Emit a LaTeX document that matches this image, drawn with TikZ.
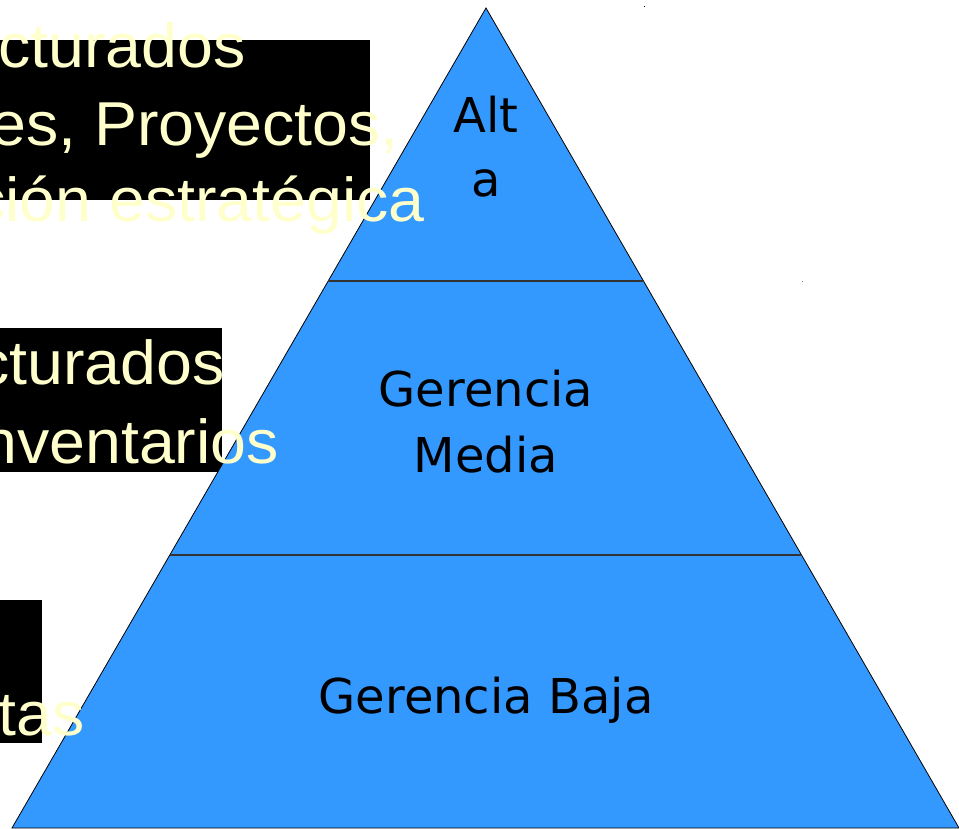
\documentclass[tikz,border=0pt]{standalone}
\usepackage{fontspec}
\setmainfont{Liberation Sans}
\newfontfamily\lefttext[FakeStretch=1.04]{Liberation Sans}
\newfontfamily\dejavu{DejaVu Sans}
\definecolor{pyrblue}{HTML}{3399FF}
\definecolor{paleyellow}{HTML}{FFFFCC}
\definecolor{divider}{HTML}{333333}
\tikzset{
  blackbox/.style={fill=black, draw=none},
  sidetext/.style={anchor=base east, inner sep=0pt, text=paleyellow, font=\lefttext\fontsize{62}{70}\selectfont},
  leveltext/.style={anchor=base, inner sep=0pt, text=black, font=\dejavu\fontsize{48}{60}\selectfont},
  dividerline/.style={draw=divider, line width=2pt},
}
\begin{document}
\begin{tikzpicture}[x=1pt, y=-1pt]
\useasboundingbox (0,0) rectangle (959,829);
\clip (0,0) rectangle (959,829);
\fill[white] (0,0) rectangle (959,829);
% left boxes
\path[blackbox] (0,40) rectangle (370,200);
\path[blackbox] (0,328) rectangle (222,472);
\path[blackbox] (0,600) rectangle (42,743);
% pyramid
\coordinate (apex) at (486,8);
\coordinate (bl) at (12,828);
\coordinate (br) at (959,828);
\filldraw[fill=pyrblue, draw=black, line width=0.8pt] (apex) -- (bl) -- (br) -- cycle;
\coordinate (l1) at (328,281);
\coordinate (r1) at (643.5,281);
\coordinate (l2) at (170,555);
\coordinate (r2) at (802,555);
\draw[dividerline] (l1) -- (r1);
\draw[dividerline] (l2) -- (r2);
% stray dots
\fill[black] (643.5,6.5) rectangle (644.5,7.5);
\fill[gray] (802,281.5) rectangle (803,282.5);
% level texts
\node[leveltext] (alt1) at (486,133) {Alt};
\node[leveltext] (alt2) at (486,197) {a};
\node[leveltext] (med1) at (486,406) {Gerencia};
\node[leveltext] (med2) at (486,472) {Media};
\node[leveltext] (baja) at (486,713) {Gerencia Baja};
% side texts
\node[sidetext] (s1a) at (246,68) {cturados};
\node[sidetext] (s1b) at (399,146) {es, Proyectos,};
\node[sidetext] (s1c) at (425,222) {ción estratégica};
\node[sidetext] (s2a) at (225,384) {cturados};
\node[sidetext] (s2b) at (279,463) {nventarios};
\node[sidetext] (s3a) at (85,735) {tas};
\end{tikzpicture}
\end{document}
